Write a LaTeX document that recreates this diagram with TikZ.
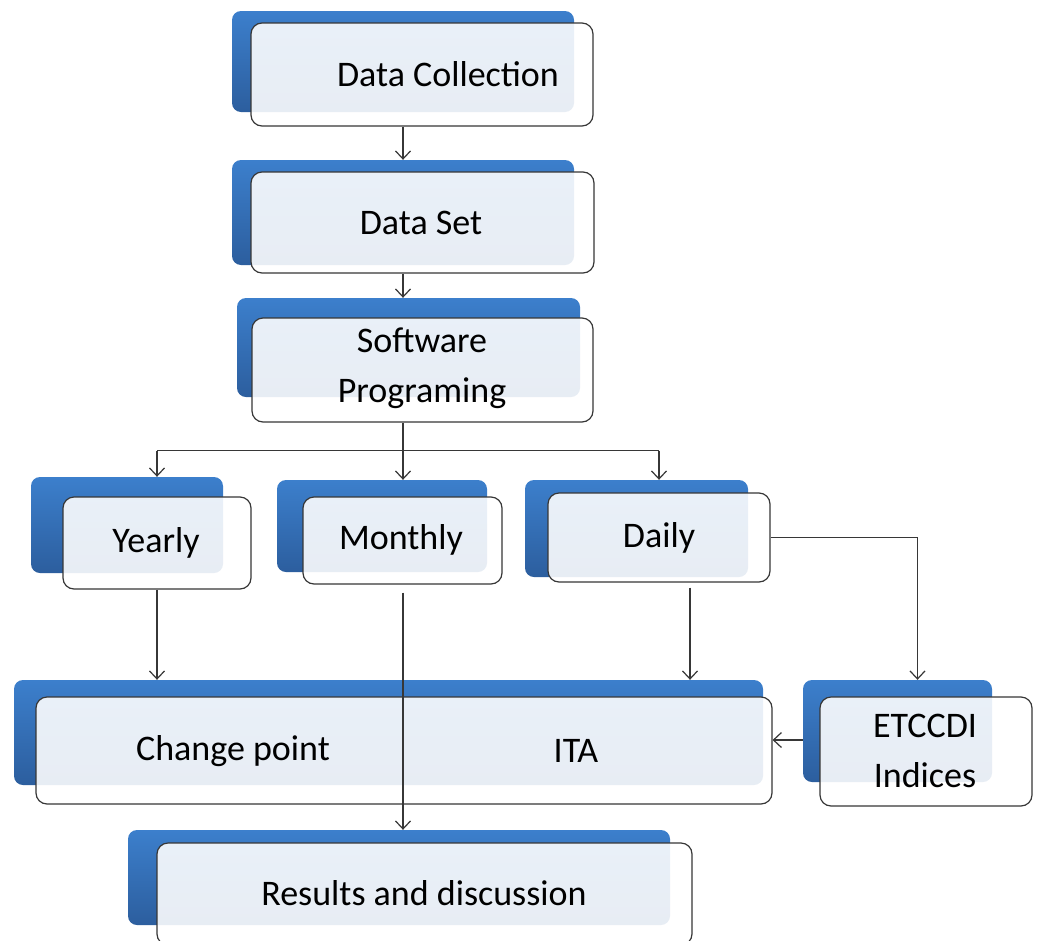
\documentclass[tikz,border=0pt]{standalone}
\usepackage{fontspec}
\setmainfont{Carlito}
\usetikzlibrary{arrows.meta,calc}
\definecolor{bluetop}{RGB}{60,127,204}
\definecolor{bluebot}{RGB}{44,94,158}
\definecolor{linegray}{RGB}{55,55,55}
\tikzset{
  backbox/.style={rounded corners=9pt, top color=bluetop, bottom color=bluebot, draw=none, inner sep=0pt},
  frontbox/.style={rounded corners=11pt, fill=white, fill opacity=0.89, draw=linegray, draw opacity=1, line width=1.2pt, inner sep=0pt},
  lbl/.style={font=\fontsize{36}{50}\selectfont, text=black, align=center, inner sep=0pt},
  conn/.style={draw=linegray, line width=1.2pt},
  arr/.style={conn, -{Straight Barb[length=8pt,width=15pt,line width=1.2pt]}}
}
\begin{document}
\begin{tikzpicture}[x=1pt,y=-1pt]
\clip (0,0) rectangle (1039,940);
\fill[white] (0,0) rectangle (1039,940);
% back (blue) boxes
\node[backbox, minimum width=342pt, minimum height=101pt] (dcb) at (403,61.5) {};
\node[backbox, minimum width=342pt, minimum height=105pt] (dsb) at (403,212.5) {};
\node[backbox, minimum width=343pt, minimum height=99pt] (spb) at (408.5,347.5) {};
\node[backbox, minimum width=192pt, minimum height=96pt] (yb) at (127,525) {};
\node[backbox, minimum width=210pt, minimum height=92pt] (mb) at (382,526) {};
\node[backbox, minimum width=223pt, minimum height=97pt] (db) at (636.5,528.5) {};
\node[backbox, minimum width=749pt, minimum height=105pt] (bigb) at (388.5,732.5) {};
\node[backbox, minimum width=189pt, minimum height=102pt] (eb) at (897.5,731) {};
\node[backbox, minimum width=542pt, minimum height=95pt] (rb) at (399,877.5) {};
% front boxes
\node[frontbox, minimum width=342pt, minimum height=103pt] (dcf) at (422,74.5) {};
\node[frontbox, minimum width=343pt, minimum height=101pt] (dsf) at (422.5,222.5) {};
\node[frontbox, minimum width=341pt, minimum height=104pt] (spf) at (422.5,370) {};
\node[frontbox, minimum width=188pt, minimum height=92pt] (yf) at (157,543) {};
\node[frontbox, minimum width=199pt, minimum height=87pt] (mf) at (402.5,540.5) {};
\node[frontbox, minimum width=222pt, minimum height=89pt] (df) at (659,537.5) {};
\node[frontbox, minimum width=736pt, minimum height=107pt] (bigf) at (404,750.5) {};
\node[frontbox, minimum width=212pt, minimum height=109pt] (ef) at (926,751.5) {};
\node[frontbox, minimum width=535pt, minimum height=102pt] (rf) at (424.5,894) {};
% texts
\node[lbl] (t1) at (448,74) {Data Collection};
\node[lbl] (t2) at (421,223) {Data Set};
\node[lbl] (t3) at (422,368) {Software\\Programing};
\node[lbl] (t4) at (156,543) {Yearly};
\node[lbl] (t5) at (401,540) {Monthly};
\node[lbl] (t6) at (659,538) {Daily};
\node[lbl] (t7) at (233,751) {Change point};
\node[lbl] (t8) at (576,751) {ITA};
\node[lbl] (t9) at (925,751) {ETCCDI\\Indices};
\node[lbl] (t10) at (424,893) {Results and discussion};
% connectors
\draw[arr] (dcf.south -| dcb.south) -- (dsb.north);
\draw[arr] (dsf.south -| dsb.south) -- (spb.north -| dsb.south);
\coordinate (br) at ($(spf.south -| dsb.south)+(0,28)$);
\draw[conn] (spf.south -| dsb.south) -- (br);
\draw[conn] (yf.north |- br) -- (df.north |- br);
\draw[arr] (yf.north |- br) -- (yf.north |- yb.north);
\draw[arr] (br) -- (mb.north -| br);
\draw[arr] (df.north |- br) -- (df.north |- db.north);
\draw[arr] (yf.south) -- (yf.south |- bigb.north);
\draw[arr, shorten <=8pt] (mf.south -| br) -- (rb.north -| br);
\draw[arr, shorten <=5pt] ([xshift=31pt]df.south) -- ([xshift=31pt]df.south |- bigb.north);
\draw[arr] (df.east) -| ([xshift=20pt]eb.north);
\draw[arr] ([yshift=-9pt]eb.west) -- ([yshift=-9pt]eb.west -| bigf.east);
\end{tikzpicture}
\end{document}
